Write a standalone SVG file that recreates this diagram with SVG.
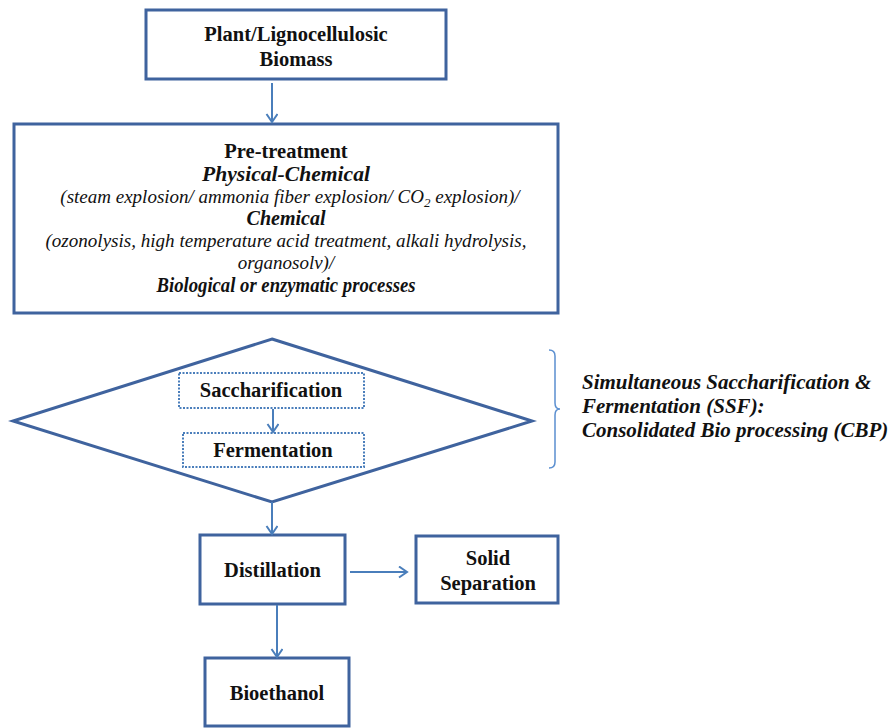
<svg xmlns="http://www.w3.org/2000/svg" width="893" height="728" viewBox="0 0 893 728">
<style>
.box{fill:#fff;stroke:#3f639e;stroke-width:3}
.dot{fill:none;stroke:#4a7ebb;stroke-width:2;stroke-dasharray:2 1.5}
.conn{fill:none;stroke:#4a7ebb;stroke-width:2}
.t{font-family:"Liberation Serif","DejaVu Serif","Times New Roman",serif;font-weight:bold;font-size:20.5px;fill:#111;text-anchor:middle}
.i{font-family:"Liberation Serif","DejaVu Serif","Times New Roman",serif;font-style:italic;font-size:19px;fill:#111;text-anchor:middle}
.bi{font-family:"Liberation Serif","DejaVu Serif","Times New Roman",serif;font-style:italic;font-weight:bold;font-size:20px;fill:#111}
.note{font-size:21px}
</style>
<defs>
<marker id="arr" markerUnits="userSpaceOnUse" markerWidth="14" markerHeight="14" refX="9" refY="6" orient="auto">
<path d="M1,0.5 L9,6 L1,11.5" fill="none" stroke="#4a7ebb" stroke-width="2"/>
</marker>
</defs>
<rect width="893" height="728" fill="#fff"/>
<g id="biomass">
<rect class="box" x="146" y="10" width="300" height="69"/>
<text class="t" x="296" y="41">Plant/Lignocellulosic</text>
<text class="t" x="296" y="66">Biomass</text>
</g>
<g id="pretreatment">
<rect class="box" x="14" y="124" width="544" height="189"/>
<text class="t" x="286" y="158">Pre-treatment</text>
<text class="bi" x="286" y="181" text-anchor="middle" textLength="168" lengthAdjust="spacingAndGlyphs">Physical-Chemical</text>
<text class="i" x="290" y="203">(steam explosion/ ammonia fiber explosion/ CO<tspan font-size="13" baseline-shift="-4">2</tspan> explosion)/</text>
<text class="bi" x="286" y="225" text-anchor="middle">Chemical</text>
<text class="i" x="286" y="247" textLength="481" lengthAdjust="spacingAndGlyphs">(ozonolysis, high temperature acid treatment, alkali hydrolysis,</text>
<text class="i" x="286" y="269">organosolv)/</text>
<text class="bi" x="286" y="292" text-anchor="middle" textLength="259" lengthAdjust="spacingAndGlyphs">Biological or enzymatic processes</text>
</g>
<g id="ssf">
<polygon points="272,339 532,421 272,502 13,421" fill="#fff" stroke="#3f639e" stroke-width="3" stroke-linejoin="miter"/>
</g>
<g id="saccharification">
<rect class="dot" x="179" y="373" width="185" height="35"/>
<text class="t" x="271" y="397">Saccharification</text>
</g>
<g id="fermentation">
<rect class="dot" x="183" y="433" width="181" height="34"/>
<text class="t" x="273" y="457">Fermentation</text>
</g>
<g id="ssf-note">
<path d="M549,350 Q555,350 555,356 L555,403 Q555,409 560,409 Q555,409 555,415 L555,462 Q555,468 549,468" fill="none" stroke="#5b8fd0" stroke-width="1.5"/>
<text class="bi note" x="582" y="389">Simultaneous Saccharification &amp;</text>
<text class="bi note" x="582" y="413">Fermentation (SSF):</text>
<text class="bi note" x="582" y="437">Consolidated Bio processing (CBP)</text>
</g>
<g id="distillation">
<rect class="box" x="200" y="535" width="145" height="69"/>
<text class="t" x="272.5" y="577">Distillation</text>
</g>
<g id="solid-separation">
<rect class="box" x="416" y="536" width="142" height="67"/>
<text class="t" x="488" y="565">Solid</text>
<text class="t" x="488" y="590">Separation</text>
</g>
<g id="bioethanol">
<rect class="box" x="205" y="658" width="144" height="68"/>
<text class="t" x="277" y="700">Bioethanol</text>
</g>
<g id="connectors">
<line class="conn" x1="272" y1="83" x2="272" y2="122" marker-end="url(#arr)"/>
<line class="conn" x1="273" y1="409" x2="273" y2="432" marker-end="url(#arr)"/>
<line class="conn" x1="272" y1="502" x2="272" y2="534" marker-end="url(#arr)"/>
<line class="conn" x1="350" y1="572" x2="407" y2="572" marker-end="url(#arr)"/>
<line class="conn" x1="277" y1="605" x2="277" y2="657" marker-end="url(#arr)"/>
</g>
</svg>
